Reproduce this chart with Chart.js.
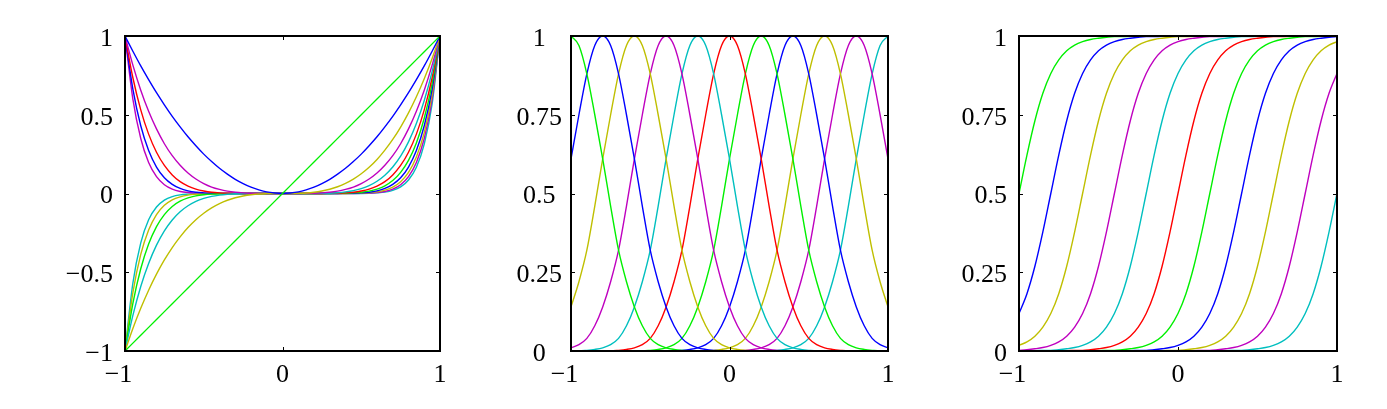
<!DOCTYPE html>
<html>
<head>
<meta charset="utf-8">
<script src="https://cdn.jsdelivr.net/npm/chart.js@4/dist/chart.umd.min.js"></script>
<style>
html, body { margin: 0; padding: 0; background: #fff; }
body { width: 1387px; height: 409px; position: relative; overflow: hidden; }
canvas { position: absolute; top: 0; }
</style>
</head>
<body>
<canvas id="polyChart" width="405" height="409" style="left:55px"></canvas>
<canvas id="gaussChart" width="407" height="409" style="left:501px"></canvas>
<canvas id="sigmoidChart" width="408" height="409" style="left:949px"></canvas>
<script>
// shared x grid, -1 .. 1 in steps of 0.05
const xs = [-1,-0.95,-0.9,-0.85,-0.8,-0.75,-0.7,-0.65,-0.6,-0.55,-0.5,-0.45,-0.4,-0.35,-0.3,-0.25,-0.2,-0.15,-0.1,-0.05,0,
  0.05,0.1,0.15,0.2,0.25,0.3,0.35,0.4,0.45,0.5,0.55,0.6,0.65,0.7,0.75,0.8,0.85,0.9,0.95,1]

const curveColors = ['#00f000', '#0000ff', '#bfbf00', '#bf00bf', '#00bfbf', '#ff0000',
  '#00f000', '#0000ff', '#bfbf00', '#bf00bf', '#00bfbf']

// left panel: polynomial curves
const poly1 = [-1,-.95,-.9,-.85,-.8,-.75,-.7,-.65,-.6,-.55,-.5,-.45,-.4,-.35,-.3,-.25,-.2,-.15,-.1,-.05,0,.05,.1,.15,.2,.25,.3,.35,.4,.45,.5,.55,.6,.65,.7,.75,.8,.85,.9,.95,1]
const poly2 = [1,.903,.81,.723,.64,.563,.49,.423,.36,.303,.25,.203,.16,.123,.09,.063,.04,.023,.01,.003,0,.003,.01,.023,.04,.063,.09,.123,.16,.203,.25,.303,.36,.423,.49,.563,.64,.723,.81,.903,1]
const poly3 = [-1,-.857,-.729,-.614,-.512,-.422,-.343,-.275,-.216,-.166,-.125,-.091,-.064,-.043,-.027,-.016,-.008,-.003,-.001,0,0,0,.001,.003,.008,.016,.027,.043,.064,.091,.125,.166,.216,.275,.343,.422,.512,.614,.729,.857,1]
const poly4 = [1,.815,.656,.522,.41,.316,.24,.179,.13,.092,.063,.041,.026,.015,.008,.004,.002,.001,0,0,0,0,0,.001,.002,.004,.008,.015,.026,.041,.063,.092,.13,.179,.24,.316,.41,.522,.656,.815,1]
const poly5 = [-1,-.774,-.59,-.444,-.328,-.237,-.168,-.116,-.078,-.05,-.031,-.018,-.01,-.005,-.002,-.001,0,0,0,0,0,0,0,0,0,.001,.002,.005,.01,.018,.031,.05,.078,.116,.168,.237,.328,.444,.59,.774,1]
const poly6 = [1,.735,.531,.377,.262,.178,.118,.075,.047,.028,.016,.008,.004,.002,.001,0,0,0,0,0,0,0,0,0,0,0,.001,.002,.004,.008,.016,.028,.047,.075,.118,.178,.262,.377,.531,.735,1]
const poly7 = [-1,-.698,-.478,-.321,-.21,-.134,-.082,-.049,-.028,-.015,-.008,-.004,-.002,-.001,0,0,0,0,0,0,0,0,0,0,0,0,0,.001,.002,.004,.008,.015,.028,.049,.082,.134,.21,.321,.478,.698,1]
const poly8 = [1,.663,.43,.273,.168,.1,.058,.032,.017,.008,.004,.002,.001,0,0,0,0,0,0,0,0,0,0,0,0,0,0,0,.001,.002,.004,.008,.017,.032,.058,.1,.168,.273,.43,.663,1]
const poly9 = [-1,-.63,-.387,-.232,-.134,-.075,-.04,-.021,-.01,-.005,-.002,-.001,0,0,0,0,0,0,0,0,0,0,0,0,0,0,0,0,0,.001,.002,.005,.01,.021,.04,.075,.134,.232,.387,.63,1]
const poly10 = [1,.599,.349,.197,.107,.056,.028,.013,.006,.003,.001,0,0,0,0,0,0,0,0,0,0,0,0,0,0,0,0,0,0,0,.001,.003,.006,.013,.028,.056,.107,.197,.349,.599,1]
const poly11 = [-1,-.569,-.314,-.167,-.086,-.042,-.02,-.009,-.004,-.001,0,0,0,0,0,0,0,0,0,0,0,0,0,0,0,0,0,0,0,0,0,.001,.004,.009,.02,.042,.086,.167,.314,.569,1]

// middle panel: bell curves
const gauss1 = [1,.97,.88,.75,.61,.46,.32,.22,.14,.08,.04,.02,.01,.005,.002,0,0,0,0,0,0,0,0,0,0,0,0,0,0,0,0,0,0,0,0,0,0,0,0,0,0]
const gauss2 = [.61,.75,.88,.97,1,.97,.88,.75,.61,.46,.32,.22,.14,.08,.04,.02,.01,.005,.002,0,0,0,0,0,0,0,0,0,0,0,0,0,0,0,0,0,0,0,0,0,0]
const gauss3 = [.14,.22,.32,.46,.61,.75,.88,.97,1,.97,.88,.75,.61,.46,.32,.22,.14,.08,.04,.02,.01,.005,.002,0,0,0,0,0,0,0,0,0,0,0,0,0,0,0,0,0,0]
const gauss4 = [.01,.02,.04,.08,.14,.22,.32,.46,.61,.75,.88,.97,1,.97,.88,.75,.61,.46,.32,.22,.14,.08,.04,.02,.01,.005,.002,0,0,0,0,0,0,0,0,0,0,0,0,0,0]
const gauss5 = [0,0,.002,.005,.01,.02,.04,.08,.14,.22,.32,.46,.61,.75,.88,.97,1,.97,.88,.75,.61,.46,.32,.22,.14,.08,.04,.02,.01,.005,.002,0,0,0,0,0,0,0,0,0,0]
const gauss6 = [0,0,0,0,0,0,.002,.005,.01,.02,.04,.08,.14,.22,.32,.46,.61,.75,.88,.97,1,.97,.88,.75,.61,.46,.32,.22,.14,.08,.04,.02,.01,.005,.002,0,0,0,0,0,0]
const gauss7 = [0,0,0,0,0,0,0,0,0,0,.002,.005,.01,.02,.04,.08,.14,.22,.32,.46,.61,.75,.88,.97,1,.97,.88,.75,.61,.46,.32,.22,.14,.08,.04,.02,.01,.005,.002,0,0]
const gauss8 = [0,0,0,0,0,0,0,0,0,0,0,0,0,0,.002,.005,.01,.02,.04,.08,.14,.22,.32,.46,.61,.75,.88,.97,1,.97,.88,.75,.61,.46,.32,.22,.14,.08,.04,.02,.01]
const gauss9 = [0,0,0,0,0,0,0,0,0,0,0,0,0,0,0,0,0,0,.002,.005,.01,.02,.04,.08,.14,.22,.32,.46,.61,.75,.88,.97,1,.97,.88,.75,.61,.46,.32,.22,.14]
const gauss10 = [0,0,0,0,0,0,0,0,0,0,0,0,0,0,0,0,0,0,0,0,0,0,.002,.005,.01,.02,.04,.08,.14,.22,.32,.46,.61,.75,.88,.97,1,.97,.88,.75,.61]
const gauss11 = [0,0,0,0,0,0,0,0,0,0,0,0,0,0,0,0,0,0,0,0,0,0,0,0,0,0,.002,.005,.01,.02,.04,.08,.14,.22,.32,.46,.61,.75,.88,.97,1]

// right panel: s-shaped curves
const sig1 = [.5,.622,.731,.818,.881,.924,.953,.971,.982,.989,.993,.996,.998,.998,.999,.999,1,1,1,1,1,1,1,1,1,1,1,1,1,1,1,1,1,1,1,1,1,1,1,1,1]
const sig2 = [.119,.182,.269,.378,.5,.622,.731,.818,.881,.924,.953,.971,.982,.989,.993,.996,.998,.998,.999,.999,1,1,1,1,1,1,1,1,1,1,1,1,1,1,1,1,1,1,1,1,1]
const sig3 = [.018,.029,.047,.076,.119,.182,.269,.378,.5,.622,.731,.818,.881,.924,.953,.971,.982,.989,.993,.996,.998,.998,.999,.999,1,1,1,1,1,1,1,1,1,1,1,1,1,1,1,1,1]
const sig4 = [.002,.004,.007,.011,.018,.029,.047,.076,.119,.182,.269,.378,.5,.622,.731,.818,.881,.924,.953,.971,.982,.989,.993,.996,.998,.998,.999,.999,1,1,1,1,1,1,1,1,1,1,1,1,1]
const sig5 = [0,.001,.001,.002,.002,.004,.007,.011,.018,.029,.047,.076,.119,.182,.269,.378,.5,.622,.731,.818,.881,.924,.953,.971,.982,.989,.993,.996,.998,.998,.999,.999,1,1,1,1,1,1,1,1,1]
const sig6 = [0,0,0,0,0,.001,.001,.002,.002,.004,.007,.011,.018,.029,.047,.076,.119,.182,.269,.378,.5,.622,.731,.818,.881,.924,.953,.971,.982,.989,.993,.996,.998,.998,.999,.999,1,1,1,1,1]
const sig7 = [0,0,0,0,0,0,0,0,0,.001,.001,.002,.002,.004,.007,.011,.018,.029,.047,.076,.119,.182,.269,.378,.5,.622,.731,.818,.881,.924,.953,.971,.982,.989,.993,.996,.998,.998,.999,.999,1]
const sig8 = [0,0,0,0,0,0,0,0,0,0,0,0,0,.001,.001,.002,.002,.004,.007,.011,.018,.029,.047,.076,.119,.182,.269,.378,.5,.622,.731,.818,.881,.924,.953,.971,.982,.989,.993,.996,.998]
const sig9 = [0,0,0,0,0,0,0,0,0,0,0,0,0,0,0,0,0,.001,.001,.002,.002,.004,.007,.011,.018,.029,.047,.076,.119,.182,.269,.378,.5,.622,.731,.818,.881,.924,.953,.971,.982]
const sig10 = [0,0,0,0,0,0,0,0,0,0,0,0,0,0,0,0,0,0,0,0,0,.001,.001,.002,.002,.004,.007,.011,.018,.029,.047,.076,.119,.182,.269,.378,.5,.622,.731,.818,.881]
const sig11 = [0,0,0,0,0,0,0,0,0,0,0,0,0,0,0,0,0,0,0,0,0,0,0,0,0,.001,.001,.002,.002,.004,.007,.011,.018,.029,.047,.076,.119,.182,.269,.378,.5]

// tick values and labels
const xTickValues = [-1, 0, 1]
const xTickLabels = ['\u22121\u2002', '0', '1']
const polyYTickValues = [-1, -0.5, 0, 0.5, 1]
const polyYTickLabels = ['\u22121', '\u22120.5', '0', '0.5', '1']
const unitYTickValues = [0, 0.25, 0.5, 0.75, 1]
const unitYTickLabels = ['0', '0.25', '0.5', '0.75', '1']

Chart.defaults.font.family = '"Liberation Serif", "Times New Roman", serif'
Chart.defaults.font.size = 26
Chart.defaults.color = '#000'

const boxTicks = {
    id: 'boxTicks',
    afterDatasetsDraw(chart) {
        const { ctx, chartArea: a, scales } = chart
        ctx.save()
        ctx.strokeStyle = '#000'
        ctx.lineWidth = 1
        ctx.beginPath()
        scales.x.ticks.forEach(t => {
            const px = Math.round(scales.x.getPixelForValue(t.value)) + 0.5
            ctx.moveTo(px, a.bottom); ctx.lineTo(px, a.bottom - 4)
            ctx.moveTo(px, a.top); ctx.lineTo(px, a.top + 4)
        })
        scales.y.ticks.forEach(t => {
            const py = Math.round(scales.y.getPixelForValue(t.value)) + 0.5
            ctx.moveTo(a.left, py); ctx.lineTo(a.left + 4, py)
            ctx.moveTo(a.right, py); ctx.lineTo(a.right - 4, py)
        })
        ctx.stroke()
        ctx.lineWidth = 2
        ctx.strokeRect(a.left, a.top, a.right - a.left, a.bottom - a.top)
        ctx.restore()
    }
}

function makeChart(id, series, yMin, yMax, yValues, yLabels, yAlign, yPad) {
    return new Chart(document.getElementById(id), {
        type: 'line',
        data: {
            datasets: series.map((ys, i) => ({
                data: ys.map((y, k) => ({ x: xs[k], y: y })),
                borderColor: curveColors[i],
                borderWidth: 1.4,
                pointRadius: 0,
                cubicInterpolationMode: 'monotone',
                fill: false
            }))
        },
        options: {
            responsive: false,
            animation: false,
            devicePixelRatio: 1,
            layout: { padding: { top: 36, right: 20, left: 0, bottom: 0 } },
            plugins: { legend: { display: false }, tooltip: { enabled: false } },
            scales: {
                x: {
                    type: 'linear', min: -1, max: 1,
                    grid: { display: false, drawTicks: false },
                    border: { display: false },
                    afterBuildTicks: s => { s.ticks = xTickValues.map(v => ({ value: v })) },
                    afterFit: s => { s.height = 58 },
                    ticks: { padding: 9, maxRotation: 0, autoSkip: false, callback: (v, i) => xTickLabels[i] }
                },
                y: {
                    type: 'linear', min: yMin, max: yMax,
                    grid: { display: false, drawTicks: false },
                    border: { display: false },
                    afterBuildTicks: s => { s.ticks = yValues.map(v => ({ value: v })) },
                    afterFit: s => { s.width = 70 },
                    ticks: { padding: yPad, crossAlign: yAlign, labelOffset: 3, autoSkip: false,
                        callback: (v, i) => yLabels[i] }
                }
            }
        },
        plugins: [boxTicks]
    })
}

makeChart('polyChart',
    [poly1, poly2, poly3, poly4, poly5, poly6, poly7, poly8, poly9, poly10, poly11],
    -1, 1, polyYTickValues, polyYTickLabels, 'near', 12)
makeChart('gaussChart',
    [gauss1, gauss2, gauss3, gauss4, gauss5, gauss6, gauss7, gauss8, gauss9, gauss10, gauss11],
    0, 1, unitYTickValues, unitYTickLabels, 'center', 9)
makeChart('sigmoidChart',
    [sig1, sig2, sig3, sig4, sig5, sig6, sig7, sig8, sig9, sig10, sig11],
    0, 1, unitYTickValues, unitYTickLabels, 'near', 12)
</script>
</body>
</html>
